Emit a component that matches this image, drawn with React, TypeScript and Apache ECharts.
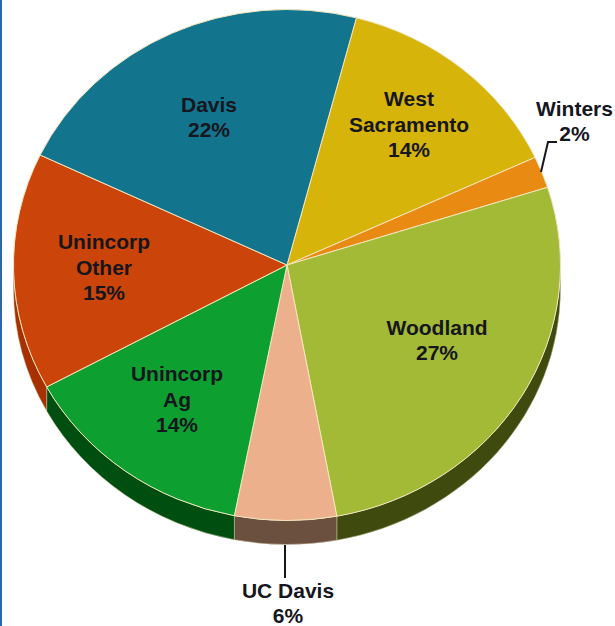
import React, { useEffect, useRef } from "react";
import * as echarts from "echarts";

const categories = ["West\nSacramento", "Winters", "Woodland", "UC Davis", "Unincorp\nAg", "Unincorp\nOther", "Davis"];
const values = [14, 2, 27, 6, 14, 15, 22];
const topColors = ["#d6b40a", "#e98a12", "#a2ba36", "#ecb08c", "#0da030", "#cb4409", "#13748e"];
const sideColors = ["#8a7508", "#a05c08", "#3f4a0e", "#6b4f3f", "#004f10", "#a83000", "#0b4a5c"];
const labelCentres = [[409, 124], [574.5, 121], [437, 340], [288, 603], [177, 399], [104, 267], [209, 117]];

const CX = 287, CY = 265, RX = 273.5, RY = 255.5, DEPTH = 24, START_DEG = 14.7;
const total = values.reduce((a, b) => a + b, 0);
const startOf = (i: number) => START_DEG + (values.slice(0, i).reduce((a, b) => a + b, 0) / total) * 360;
const pt = (deg: number, dy = 0) => {
  const r = (deg * Math.PI) / 180;
  return [CX + RX * Math.sin(r), CY - RY * Math.cos(r) + dy];
};

function topPath(a: number, b: number) {
  const [x0, y0] = pt(a);
  const [x1, y1] = pt(b);
  return `M${CX} ${CY}L${x0} ${y0}A${RX} ${RY} 0 ${b - a > 180 ? 1 : 0} 1 ${x1} ${y1}Z`;
}

function sidePath(a: number, b: number) {
  const s = Math.max(a, 90), e = Math.min(b, 270);
  if (e <= s) return "";
  const [x0, y0] = pt(s);
  const [x1, y1] = pt(e);
  const [x2, y2] = pt(e, DEPTH);
  const [x3, y3] = pt(s, DEPTH);
  return `M${x0} ${y0}A${RX} ${RY} 0 0 1 ${x1} ${y1}L${x2} ${y2}A${RX} ${RY} 0 0 0 ${x3} ${y3}Z`;
}

export default function App() {
  const ref = useRef<HTMLDivElement>(null);
  useEffect(() => {
    const chart = echarts.init(ref.current!, null, { renderer: "svg" });
    const data = values.map((v, i) => ({ value: v, name: categories[i] }));
    chart.setOption({
      animation: false,
      backgroundColor: "#ffffff",
      graphic: [
        { type: "rect", shape: { x: 0, y: 0, width: 2, height: 626 }, style: { fill: "#2f65ad" } },
        { type: "polyline", z: 20, shape: { points: [[541, 172], [548, 142], [557, 142]] }, style: { stroke: "#16161e", lineWidth: 2, fill: "none" } },
        { type: "line", z: 20, shape: { x1: 285, y1: 545, x2: 285, y2: 578 }, style: { stroke: "#16161e", lineWidth: 2 } },
      ],
      series: [
        {
          type: "custom",
          coordinateSystem: "none",
          silent: true,
          z: 1,
          data,
          renderItem: (p: any) => {
            const i = p.dataIndex;
            const d = sidePath(startOf(i), startOf(i + 1));
            if (!d) return { type: "group", children: [] };
            return {
              type: "path",
              shape: { pathData: d },
              style: { fill: sideColors[i], stroke: "#c9c7a0", lineWidth: 0.5 },
            };
          },
        },
        {
          type: "custom",
          coordinateSystem: "none",
          silent: true,
          z: 2,
          data,
          renderItem: (p: any) => {
            const i = p.dataIndex;
            return {
              type: "path",
              shape: { pathData: topPath(startOf(i), startOf(i + 1)) },
              style: { fill: topColors[i], stroke: "#f3e6bd", lineWidth: 1 },
            };
          },
        },
        {
          type: "custom",
          coordinateSystem: "none",
          silent: true,
          z: 3,
          data,
          renderItem: (p: any, api: any) => {
            const i = p.dataIndex;
            return {
              type: "text",
              x: labelCentres[i][0],
              y: labelCentres[i][1],
              style: {
                text: `${categories[i]}\n${api.value(0)}%`,
                fill: "#16161e",
                font: 'bold 21px "Liberation Sans", Arial, sans-serif',
                lineHeight: 25.5,
                align: "center",
                verticalAlign: "middle",
              },
            };
          },
        },
      ],
    });
    return () => chart.dispose();
  }, []);
  return <div ref={ref} style={{ position: "fixed", left: 0, top: 0, width: 615, height: 626 }} />;
}
